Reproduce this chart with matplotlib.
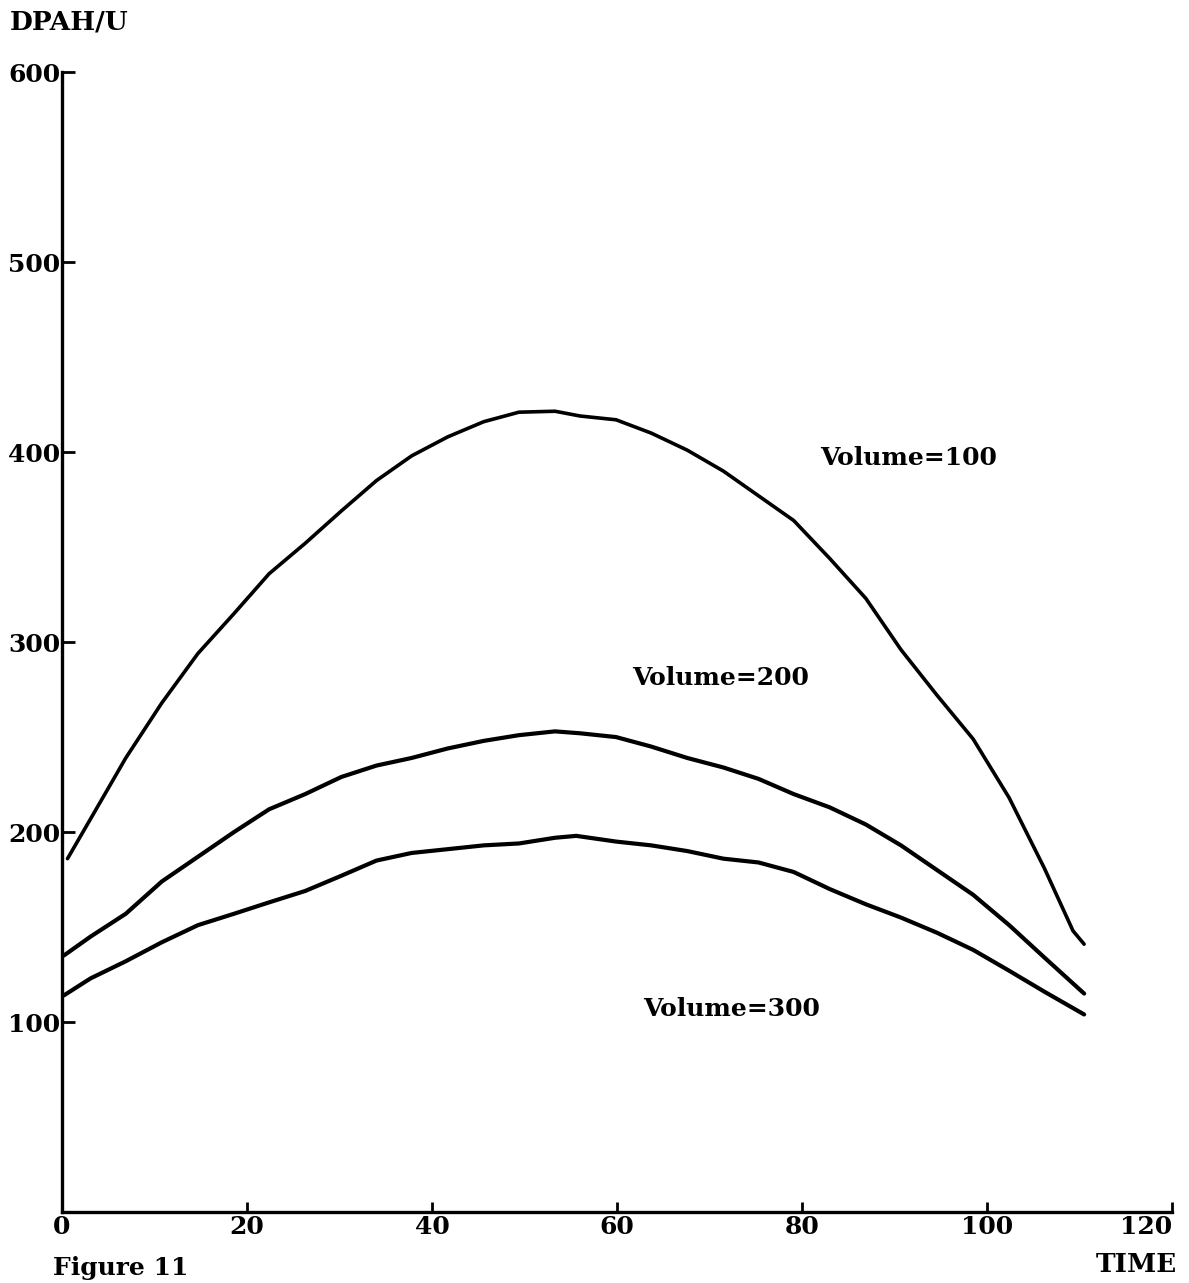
import matplotlib
matplotlib.use('Agg')
import matplotlib.pyplot as plt

# values
t100 = [0.6, 3.1, 6.9, 10.8, 14.7, 18.6, 22.4, 26.3, 30.2, 34.0, 37.8, 41.7, 45.6, 49.4, 53.3,
        56.0, 59.9, 63.7, 67.6, 71.5, 75.3, 79.1, 83.0, 86.9, 90.7, 94.6, 98.5, 102.4, 106.2, 109.3, 110.5]
v100 = [186, 207, 239, 268, 294, 315, 336, 352, 369, 385, 398, 408, 416, 421, 421.5,
        419, 417, 410, 401, 390, 377, 364, 344, 323, 296, 272, 249, 218, 181, 148, 141]

t200 = [0.2, 3.1, 6.9, 10.8, 14.7, 18.6, 22.4, 26.3, 30.2, 34.0, 37.8, 41.7, 45.6, 49.4, 53.3,
        56.0, 59.9, 63.7, 67.6, 71.5, 75.3, 79.1, 83.0, 86.9, 90.7, 94.6, 98.5, 102.4, 106.2, 110.5]
v200 = [135, 145, 157, 174, 187, 200, 212, 220, 229, 235, 239, 244, 248, 251, 253,
        252, 250, 245, 239, 234, 228, 220, 213, 204, 193, 180, 167, 151, 134, 115]

t300 = [0.2, 3.1, 6.9, 10.8, 14.7, 18.6, 22.4, 26.3, 30.2, 34.0, 37.8, 41.7, 45.6, 49.4, 53.3,
        55.6, 59.9, 63.7, 67.6, 71.5, 75.3, 79.1, 83.0, 86.9, 90.7, 94.6, 98.5, 102.4, 106.2, 110.5]
v300 = [114, 123, 132, 142, 151, 157, 163, 169, 177, 185, 189, 191, 193, 194, 197,
        198, 195, 193, 190, 186, 184, 179, 170, 162, 155, 147, 138, 127, 116, 104]

labels = ['Volume=100', 'Volume=200', 'Volume=300']
label_t = [91.5, 71.2, 72.4]
label_v = [397, 281, 107]

xticks = [0, 20, 40, 60, 80, 100, 120]
yticks = [100, 200, 300, 400, 500, 600]

plt.rcParams['font.family'] = ['DejaVu Serif']
plt.rcParams['font.weight'] = 'bold'

fig = plt.figure(figsize=(11.89, 12.83), dpi=100)
ax = fig.add_axes([0.0521, 0.0553, 0.9336, 0.8885])

ax.plot(t100, v100, color='black', lw=2.6, solid_capstyle='round')
ax.plot(t200, v200, color='black', lw=3.0, solid_capstyle='round')
ax.plot(t300, v300, color='black', lw=3.0, solid_capstyle='round')

for lab, tx, vy in zip(labels, label_t, label_v):
    ax.text(tx, vy, lab, fontsize=18, fontweight='bold', ha='center', va='center')

ax.set_xlim(0, 120)
ax.set_ylim(0, 600)
ax.set_xticks(xticks)
ax.set_yticks(yticks)
ax.tick_params(axis='both', direction='in', width=2, labelsize=18, colors='black')
ax.tick_params(axis='y', length=9, pad=1)
ax.tick_params(axis='x', length=7, pad=2)
for lbl in ax.get_xticklabels() + ax.get_yticklabels():
    lbl.set_fontweight('bold')
ax.get_xticklabels()[-1].set_ha('right')

for side in ['top', 'right']:
    ax.spines[side].set_visible(False)
for side in ['left', 'bottom']:
    ax.spines[side].set_linewidth(2.4)

fig.text(10 / 1189, 1 - 22 / 1283, 'DPAH/U', fontsize=19, fontweight='bold', ha='left', va='center')
fig.text(53 / 1189, 1 - 1268 / 1283, 'Figure 11', fontsize=18, fontweight='bold', ha='left', va='center')
fig.text(1177 / 1189, 1 - 1265 / 1283, 'TIME', fontsize=19, fontweight='bold', ha='right', va='center')

fig.savefig('out.png', dpi=100, facecolor='white')
